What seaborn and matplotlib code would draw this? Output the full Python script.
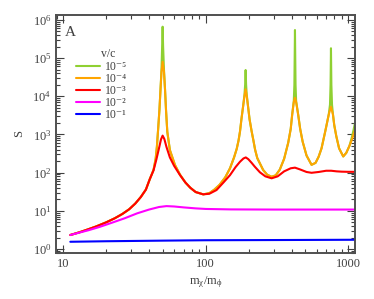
import pandas as pd
import matplotlib
matplotlib.use('Agg')
import matplotlib.pyplot as plt
from matplotlib.lines import Line2D
from matplotlib.ticker import FixedLocator, FuncFormatter, LogLocator, NullFormatter, LogFormatterSciNotation
import seaborn as sns

# Sommerfeld enhancement S vs m_chi/m_phi
labels = ['10⁻⁵', '10⁻⁴', '10⁻³', '10⁻²', '10⁻¹']
colors = ['#8fd032', '#ffa500', '#ff0000', '#ff00ff', '#0000ff']

x_v5 = [11.2, 13, 15, 17, 20, 23, 26, 29, 32, 35, 38, 40.5, 43, 44.5, 45.4, 46.2, 47.3, 48.1,
        48.9, 49.4, 49.8, 50.2, 50.9, 51.8, 52.6, 53.7, 56, 60.8, 66, 72, 78, 85, 96, 106, 115,
        125, 137, 148, 158, 165, 170, 174, 178, 183, 187, 189, 190.5, 192, 194, 198, 203, 210,
        216, 222, 230, 253, 270, 290, 310, 331, 355, 379, 395, 404, 415, 419, 423, 427, 431,
        446, 460, 479, 510, 553, 590, 620, 650, 690, 705, 730, 745, 752, 757, 762, 770, 782,
        798, 825, 863, 923, 970, 1020, 1057, 1090, 1115]
s_v5 = [2.33, 2.75, 3.3, 3.9, 5.0, 6.4, 8.3, 11, 15.5, 23, 36, 68, 118, 230, 480, 1200, 4400,
        14500, 50000, 200000, 660000, 200000, 50000, 14500, 4400, 1180, 390, 158, 88, 55, 40,
        31, 27, 29, 36, 48, 75, 130, 250, 420, 700, 1200, 2500, 5500, 11000, 20000, 48500,
        20000, 11000, 5500, 2500, 1200, 700, 400, 240, 117, 88, 78, 85, 120, 230, 600, 1400,
        3200, 7500, 20000, 540000, 20000, 7500, 3200, 1400, 645, 280, 160, 180, 260, 433, 1200,
        1760, 3300, 6000, 20000, 180000, 20000, 6000, 3300, 1760, 900, 433, 265, 330, 500, 800,
        1300, 1960]

x_v4 = [11.2, 13, 15, 17, 20, 23, 26, 29, 32, 35, 38, 40.5, 43, 44.5, 45.4, 46.2, 47.3, 48.1,
        48.9, 49.8, 50.9, 51.8, 52.6, 53.7, 56, 60.8, 66, 72, 78, 85, 96, 106, 115, 125, 137,
        148, 158, 165, 170, 174, 178, 183, 187, 190.5, 194, 198, 203, 210, 216, 222, 230, 253,
        270, 290, 310, 331, 355, 379, 395, 404, 415, 423, 431, 446, 460, 479, 510, 553, 590,
        620, 650, 690, 705, 730, 757, 782, 798, 825, 863, 923, 970, 1020, 1057, 1090, 1115]
s_v4 = [2.33, 2.75, 3.3, 3.9, 5.0, 6.4, 8.3, 11, 15.5, 23, 36, 68, 118, 230, 480, 1200, 4400,
        14500, 43000, 80000, 43000, 14500, 4400, 1180, 390, 158, 88, 55, 40, 31, 27, 29, 36,
        48, 75, 130, 250, 420, 700, 1200, 2500, 5500, 10000, 15200, 10000, 5500, 2500, 1200,
        700, 400, 240, 117, 88, 78, 85, 120, 230, 600, 1400, 3200, 7000, 9100, 7000, 3200,
        1400, 645, 280, 160, 180, 260, 433, 1200, 1760, 3300, 5300, 3300, 1760, 900, 433, 265,
        330, 500, 700, 1000, 1300]

x_v3 = [11.2, 13, 15, 17, 20, 23, 26, 29, 32, 35, 38, 40.5, 43, 45, 47, 48.5, 49.8, 51.2, 53,
        56, 60, 66, 72, 78, 85, 96, 106, 119, 133, 148, 162, 174, 184, 191, 199, 210, 221, 240,
        262, 290, 320, 355, 395, 423, 460, 510, 553, 620, 700, 760, 830, 900, 1000, 1115]
s_v3 = [2.33, 2.75, 3.3, 3.9, 5.0, 6.4, 8.3, 11, 15.5, 23, 36, 68, 115, 220, 440, 740, 930, 760,
        470, 250, 150, 86, 55, 40, 31, 27, 28, 35, 55, 86, 140, 193, 235, 250, 225, 180, 143,
        102, 80, 71, 80, 108, 130, 135, 121, 104, 99, 104, 112, 112, 108, 106, 105, 105]

x_v2 = [11.2, 13, 15, 18, 22, 27, 33, 40, 47, 53, 60, 70, 85, 100, 150, 300, 600, 1115]
s_v2 = [2.33, 2.7, 3.1, 3.8, 4.9, 6.4, 8.6, 10.8, 12.6, 13.3, 13.0, 12.3, 11.6, 11.2, 10.9,
        10.8, 10.8, 10.8]

x_v1 = [11.2, 20, 50, 100, 300, 1115]
s_v1 = [1.55, 1.60, 1.66, 1.70, 1.72, 1.75]

xs = [x_v5, x_v4, x_v3, x_v2, x_v1]
ss = [s_v5, s_v4, s_v3, s_v2, s_v1]
df = pd.concat([pd.DataFrame({'ratio': x, 'S': s, 'v': lab})
                for x, s, lab in zip(xs, ss, labels)], ignore_index=True)

sns.set_style('ticks')
plt.rcParams['font.family'] = ['Liberation Serif', 'DejaVu Serif']
plt.rcParams['mathtext.fontset'] = 'custom'
plt.rcParams['mathtext.rm'] = 'Liberation Serif'
plt.rcParams['mathtext.it'] = 'Liberation Serif:italic'
plt.rcParams['mathtext.default'] = 'regular'

txt = '#404040'
fig = plt.figure(figsize=(3.74, 2.99), dpi=100)
ax = fig.add_axes([0.150, 0.154, 0.799, 0.796])
sns.lineplot(data=df, x='ratio', y='S', hue='v', hue_order=labels, palette=colors,
             sort=False, estimator=None, lw=1.5, legend=False, ax=ax)
ax.set_xscale('log')
ax.set_yscale('log')
ax.set_xlim(8.9, 1115)
ax.set_ylim(0.79, 1.34e6)

ax.xaxis.set_major_locator(FixedLocator([10, 100, 1000]))
ax.xaxis.set_major_formatter(FuncFormatter(lambda v, p: f'{v:g}'))
ax.xaxis.set_minor_locator(LogLocator(base=10, subs=range(2, 10)))
ax.xaxis.set_minor_formatter(NullFormatter())
ax.yaxis.set_major_locator(FixedLocator([1, 10, 1e2, 1e3, 1e4, 1e5, 1e6]))
ax.yaxis.set_major_formatter(LogFormatterSciNotation())
ax.yaxis.set_minor_locator(LogLocator(base=10, subs=range(2, 10), numticks=20))
ax.yaxis.set_minor_formatter(NullFormatter())

ax.tick_params(which='both', direction='in', top=True, right=True, colors=txt,
               labelsize=9, width=0.8)
ax.tick_params(which='major', length=6)
ax.tick_params(which='minor', length=3)
for sp in ax.spines.values():
    sp.set_color('#505050')
    sp.set_linewidth(1.4)

ax.set_xlabel(r'$\mathrm{m}_\chi/\mathrm{m}_\phi$', fontsize=9, color=txt, labelpad=3)
ax.set_ylabel('S', fontsize=9, color=txt, labelpad=5)
ax.text(0.03, 0.955, 'A', transform=ax.transAxes, fontsize=11, va='top', ha='left', color=txt)

# legend title sits over the label column, as in the reference
ax.text(0.149, 0.838, 'v/c', transform=ax.transAxes, fontsize=8.5, va='center', ha='left',
        color=txt)
handles = [Line2D([], [], color=c, lw=1.5) for c in colors]
leg = ax.legend(handles, labels, loc='upper left', bbox_to_anchor=(0.068, 0.806),
                frameon=False, fontsize=8.5, handlelength=2.0, handletextpad=0.4,
                labelspacing=0.0, borderpad=0, borderaxespad=0)
for t in leg.get_texts():
    t.set_color(txt)

fig.savefig('out.png', dpi=100)
